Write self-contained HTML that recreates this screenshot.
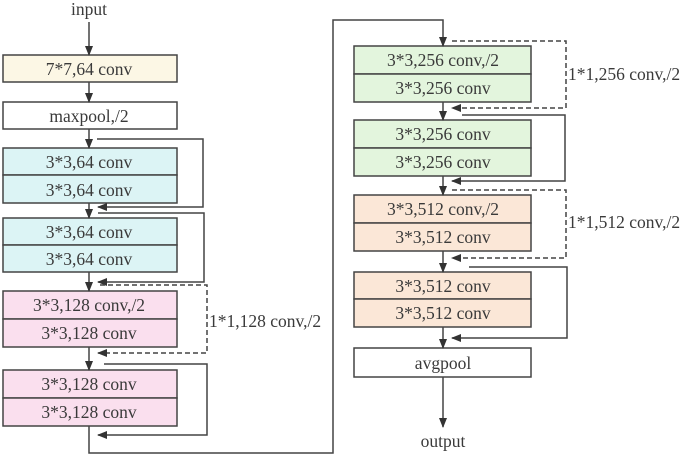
<!DOCTYPE html>
<html><head><meta charset="utf-8"><style>body{margin:0;background:#fff}svg{display:block}</style></head><body>
<svg width="685" height="456" viewBox="0 0 685 456" xmlns="http://www.w3.org/2000/svg" font-family="Liberation Serif, serif" font-size="17.5" fill="#3a3a3a">
<defs><marker id="a" markerWidth="10" markerHeight="8" refX="9" refY="4" orient="auto" markerUnits="userSpaceOnUse"><path d="M0,0 L10,4 L0,8 z" fill="#333"/></marker></defs>
<g stroke="#444" stroke-width="1.5">
<rect x="3" y="55" width="174" height="27" fill="#fcf7e5"/>
<rect x="3" y="102" width="174" height="27" fill="#fff"/>
<rect x="3" y="148" width="174" height="27" fill="#dcf4f5"/><rect x="3" y="175" width="174" height="28" fill="#dcf4f5"/>
<rect x="3" y="218" width="174" height="27" fill="#dcf4f5"/><rect x="3" y="245" width="174" height="27" fill="#dcf4f5"/>
<rect x="3" y="291" width="174" height="28" fill="#fadfee"/><rect x="3" y="319" width="174" height="28" fill="#fadfee"/>
<rect x="3" y="370" width="174" height="28" fill="#fadfee"/><rect x="3" y="398" width="174" height="28" fill="#fadfee"/>
<rect x="354" y="46" width="177" height="28" fill="#e3f5dd"/><rect x="354" y="74" width="177" height="28" fill="#e3f5dd"/>
<rect x="354" y="120" width="177" height="28" fill="#e3f5dd"/><rect x="354" y="148" width="177" height="28" fill="#e3f5dd"/>
<rect x="354" y="195" width="177" height="28" fill="#fbe7d7"/><rect x="354" y="223" width="177" height="28" fill="#fbe7d7"/>
<rect x="354" y="272" width="177" height="27" fill="#fbe7d7"/><rect x="354" y="299" width="177" height="28" fill="#fbe7d7"/>
<rect x="354" y="348" width="177" height="29" fill="#fff"/>
</g>
<g stroke="#444" stroke-width="1.5" fill="none" marker-end="url(#a)">
<path d="M89 22 V55"/><path d="M89 82 V102"/><path d="M89 129 V148"/><path d="M89 203 V218"/><path d="M89 272 V291"/><path d="M89 347 V370"/>
<path d="M97 139 H203 V207 H98"/>
<path d="M98 213 H204 V282 H98"/>
<path d="M104 364 H207 V435 H98"/>
<path d="M89 426 V453 H333 V20 H443 V46"/>
<path d="M443 102 V120"/><path d="M443 176 V195"/><path d="M443 251 V272"/><path d="M443 327 V348"/><path d="M443 377 V427"/>
<path d="M462 115 H565 V181 H452"/>
<path d="M469 267 H567 V338 H452"/>
</g>
<g stroke="#444" stroke-width="1.5" fill="none" stroke-dasharray="5,3" marker-end="url(#a)">
<path d="M100 285 H207 V353 H98"/>
<path d="M452 41 H566 V108 H452"/>
<path d="M452 190 H566 V258 H452"/>
</g>
<g text-anchor="middle">
<text x="89" y="15">input</text>
<text x="89" y="75">7*7,64 conv</text>
<text x="89" y="122">maxpool,/2</text>
<text x="89" y="168">3*3,64 conv</text><text x="89" y="196">3*3,64 conv</text>
<text x="89" y="238">3*3,64 conv</text><text x="89" y="265">3*3,64 conv</text>
<text x="89" y="311">3*3,128 conv,/2</text><text x="89" y="339">3*3,128 conv</text>
<text x="89" y="390">3*3,128 conv</text><text x="89" y="418">3*3,128 conv</text>
<text x="443" y="66">3*3,256 conv,/2</text><text x="443" y="94">3*3,256 conv</text>
<text x="443" y="140">3*3,256 conv</text><text x="443" y="168">3*3,256 conv</text>
<text x="443" y="215">3*3,512 conv,/2</text><text x="443" y="243">3*3,512 conv</text>
<text x="443" y="292">3*3,512 conv</text><text x="443" y="319">3*3,512 conv</text>
<text x="443" y="369">avgpool</text>
<text x="443" y="447">output</text>
</g>
<text x="209" y="327">1*1,128 conv,/2</text>
<text x="568" y="80">1*1,256 conv,/2</text>
<text x="568" y="228">1*1,512 conv,/2</text>
</svg>
</body></html>
